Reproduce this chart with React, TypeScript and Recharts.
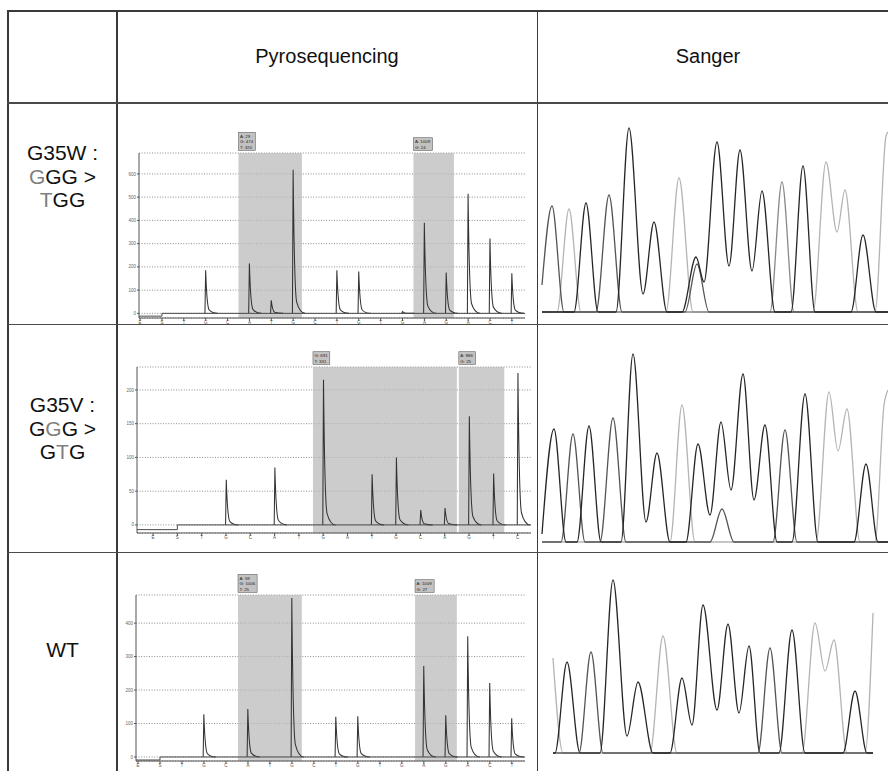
import React from "react";
import {
  Bar,
  CartesianGrid,
  ComposedChart,
  Line,
  LineChart,
  ReferenceArea,
  XAxis,
  YAxis,
} from "recharts";

// ---- pyrograms: dispensation order and peak height per dispensation ----
const dispW = ["E", "S", "T", "G", "C", "A", "T", "G", "C", "T", "G", "T", "G", "A", "G", "A", "C", "T"];
const dispV = ["E", "S", "T", "G", "C", "A", "T", "G", "A", "T", "G", "C", "A", "G", "T", "C"];

const g35wSignal = [0, 0, 0, 185, 0, 215, 56, 618, 0, 185, 180, 0, 8, 390, 176, 515, 322, 172];
const g35vSignal = [0, 0, 0, 67, 0, 85, 0, 215, 0, 75, 100, 22, 25, 161, 76, 225];
const wtSignal = [0, 0, 0, 128, 0, 143, 0, 475, 0, 120, 122, 0, 0, 272, 125, 361, 221, 116];

const g35wTicks = [0, 100, 200, 300, 400, 500, 600];
const g35vTicks = [0, 50, 100, 150, 200];
const wtTicks = [0, 100, 200, 300, 400];

// trace baseline (drops before substrate is added)
const g35wBase = [{ x: -0.05, y: -12 }, { x: 1, y: 0 }, { x: 17.6, y: 0 }];
const g35vBase = [{ x: -0.66, y: -7 }, { x: 1, y: 0 }, { x: 15.55, y: 0 }];
const wtBase = [{ x: -0.09, y: -9 }, { x: 1, y: 0 }, { x: 17.6, y: 0 }];

// analysed positions (grey boxes) and their allele readouts
const g35wShades = [
  { x1: 4.5, x2: 7.4, lines: ["A: 29", "G: 474", "T: 320"] },
  { x1: 12.5, x2: 14.35, lines: ["A: 1009", "G: 24"] },
];
const g35vShades = [
  { x1: 6.58, x2: 12.5, lines: ["G: 691", "T: 331"] },
  { x1: 12.58, x2: 14.45, lines: ["A: 886", "G: 25"] },
];
const wtShades = [
  { x1: 4.55, x2: 7.45, lines: ["A: 59", "G: 1006", "T: 25"] },
  { x1: 12.6, x2: 14.5, lines: ["A: 1009", "G: 27"] },
];

// ---- Sanger traces: [scan, intensity] per dye channel ----
const g35wDark = [[12, 0], [44, 0], [56, 109], [68, 0], [86, 0], [99, 184], [113, 18], [124, 90], [137, 0], [152, 0], [166, 55], [174, 30], [187, 170], [199, 46], [210, 162], [222, 41], [232, 121], [245, 0], [261, 0], [273, 146], [285, 0], [321, 0], [333, 77], [346, 0], [358, 0]];
const g35wMid = [[12, 27], [22, 106], [34, 0], [66, 0], [79, 117], [92, 0], [155, 0], [167, 48], [179, 0], [358, 0]];
const g35wGrey = [[12, 0], [240, 0], [252, 130], [264, 0], [358, 0]];
const g35wLight = [[12, 0], [27, 0], [39, 103], [51, 0], [136, 0], [149, 134], [163, 0], [283, 0], [296, 150], [307, 80], [315, 122], [328, 0], [345, 0], [356, 176], [358, 180]];

const g35vDark = [[12, 8], [24, 113], [36, 0], [47, 0], [59, 116], [71, 0], [91, 0], [103, 188], [116, 20], [127, 89], [140, 0], [156, 0], [168, 98], [180, 27], [191, 120], [201, 52], [213, 168], [224, 42], [235, 117], [247, 0], [262, 0], [275, 148], [288, 0], [324, 0], [336, 78], [348, 0], [358, 0]];
const g35vMid = [[12, 0], [31, 0], [43, 108], [55, 0], [70, 0], [83, 124], [96, 0], [180, 0], [192, 33], [204, 0], [243, 0], [255, 112], [267, 0], [358, 0]];
const g35vLight = [[12, 0], [140, 0], [152, 137], [165, 0], [286, 0], [299, 150], [308, 91], [317, 133], [330, 0], [345, 0], [354, 137], [358, 152]];

const wtDark = [[23, 0], [25, 0], [37, 91], [50, 0], [70, 0], [83, 173], [97, 17], [108, 71], [123, 0], [140, 0], [152, 75], [162, 28], [173, 148], [187, 43], [198, 129], [209, 40], [219, 107], [230, 0], [249, 0], [262, 123], [275, 0], [313, 0], [325, 62], [337, 0], [343, 0]];
const wtMid = [[23, 0], [49, 0], [61, 101], [73, 0], [228, 0], [240, 105], [252, 0], [343, 0]];
const wtLight = [[23, 95], [33, 0], [120, 0], [133, 117], [147, 0], [272, 0], [285, 130], [295, 82], [304, 113], [317, 0], [335, 0], [343, 140]];

const FONT = "'Liberation Sans', Arial, sans-serif";

const toPts = (a: number[][]) => a.map(([x, v]) => ({ x, v }));

function Peak(props: any) {
  const { x, y, width, height } = props;
  if (!height || height < 0.5) return <g />;
  const cx = x + width / 2;
  const top = y;
  const base = y + height;
  const H = height;
  const d = `M${cx - 0.7},${base} L${cx},${top} C${cx + 0.8},${top + H * 0.55} ${cx + 1.6},${base - H * 0.14} ${cx + 3.5},${base - H * 0.08} C${cx + 5.5},${base - H * 0.03} ${cx + 8},${base} ${cx + 12},${base}`;
  return <path d={d} fill="none" stroke="#333" strokeWidth={1.05} />;
}

function DispTick(props: any) {
  const { x, y, payload, disp } = props;
  return (
    <text x={x} y={y + 2.5} fontSize={4.5} textAnchor="middle" fill="#555" stroke="none">
      {disp[payload.value]}
    </text>
  );
}

function Ann(props: any) {
  const { viewBox, lines } = props;
  if (!viewBox) return null;
  const w = Math.max(...lines.map((l: string) => l.length)) * 2.3 + 3;
  const h = lines.length * 5.4 + 2;
  const bx = viewBox.x;
  const by = viewBox.y - h - 2.5;
  return (
    <g>
      <rect x={bx} y={by} width={w} height={h} fill="#c2c2c2" stroke="#666" strokeWidth={0.6} />
      {lines.map((l: string, i: number) => (
        <text key={i} x={bx + 1.5} y={by + 5.6 + i * 5.4} fontSize={4.4} fill="#222" stroke="none">
          {l}
        </text>
      ))}
    </g>
  );
}

function Pyrogram(p: any) {
  const data = p.disp.map((_: string, i: number) => ({ x: i, v: p.signal[i] }));
  return (
    <div style={{ position: "absolute", left: p.left, top: p.top }}>
      <ComposedChart
        width={p.width}
        height={p.height}
        data={data}
        margin={{ top: p.marginTop, right: p.marginRight, bottom: 0, left: 0 }}
      >
        <CartesianGrid vertical={false} stroke="#8c8c8c" strokeDasharray="1 1.6" />
        {p.shades.map((s: any, i: number) => (
          <ReferenceArea
            key={i}
            x1={s.x1}
            x2={s.x2}
            fill="#b9b9b9"
            fillOpacity={0.72}
            stroke="none"
            label={<Ann lines={s.lines} />}
          />
        ))}
        <XAxis
          type="number"
          dataKey="x"
          domain={p.xDomain}
          allowDataOverflow
          ticks={p.disp.map((_: string, i: number) => i)}
          interval={0}
          height={10}
          tickSize={3}
          tickMargin={0}
          stroke="#555"
          tick={<DispTick disp={p.disp} />}
        />
        <YAxis
          type="number"
          domain={p.yDomain}
          allowDataOverflow
          ticks={p.yTicks}
          interval={0}
          width={p.yWidth}
          tickSize={2}
          tickMargin={1}
          stroke="#555"
          tick={{ fontSize: 4.5, fill: "#666" }}
        />
        <Line
          data={p.base}
          dataKey="y"
          type="stepAfter"
          stroke="#4a4a4a"
          strokeWidth={1}
          dot={false}
          isAnimationActive={false}
        />
        <Bar dataKey="v" barSize={2} shape={Peak} isAnimationActive={false} />
      </ComposedChart>
    </div>
  );
}

function Sanger({ top, channels }: any) {
  return (
    <div style={{ position: "absolute", left: 530, top }}>
      <LineChart width={358} height={204} margin={{ top: 0, right: 0, bottom: 4, left: 0 }}>
        <XAxis type="number" dataKey="x" domain={[0, 358]} hide allowDataOverflow />
        <YAxis type="number" domain={[0, 200]} hide />
        {channels.map((c: any, i: number) => (
          <Line
            key={i}
            data={toPts(c.pts)}
            dataKey="v"
            type="monotone"
            stroke={c.color}
            strokeWidth={1.3}
            dot={false}
            isAnimationActive={false}
          />
        ))}
      </LineChart>
    </div>
  );
}

const line = (left: number, top: number, width: number, height: number, color = "#3a3a3a") => (
  <div style={{ position: "absolute", left, top, width, height, background: color }} />
);

const grey = { color: "#808080" };

export default function App() {
  return (
    <div
      style={{
        position: "absolute",
        left: 0,
        top: 0,
        width: 888,
        height: 771,
        overflow: "hidden",
        background: "#fff",
        fontFamily: FONT,
        color: "#111",
      }}
    >
      {/* header */}
      <div style={{ position: "absolute", left: 117, top: 45, width: 420, textAlign: "center", fontSize: 20, lineHeight: "23.5px" }}>
        Pyrosequencing
      </div>
      <div style={{ position: "absolute", left: 537, top: 45, width: 342, textAlign: "center", fontSize: 20, lineHeight: "23.5px" }}>
        Sanger
      </div>

      {/* row labels */}
      <div style={{ position: "absolute", left: 8, top: 141, width: 109, textAlign: "center", fontSize: 21, lineHeight: "23.5px" }}>
        <div>G35W :</div>
        <div><span style={grey}>G</span>GG &gt;</div>
        <div><span style={grey}>T</span>GG</div>
      </div>
      <div style={{ position: "absolute", left: 8, top: 393, width: 109, textAlign: "center", fontSize: 21, lineHeight: "23.5px" }}>
        <div>G35V :</div>
        <div>G<span style={grey}>G</span>G &gt;</div>
        <div>G<span style={grey}>T</span>G</div>
      </div>
      <div style={{ position: "absolute", left: 8, top: 638, width: 109, textAlign: "center", fontSize: 21, lineHeight: "23.5px" }}>
        WT
      </div>

      {/* pyrograms */}
      <Pyrogram
        left={117} top={125} width={420} height={203} marginTop={28} marginRight={12} yWidth={22}
        xDomain={[-0.05, 17.6]} yDomain={[-20, 690]} yTicks={g35wTicks}
        disp={dispW} signal={g35wSignal} base={g35wBase} shades={g35wShades}
      />
      <Pyrogram
        left={117} top={345} width={420} height={198} marginTop={22} marginRight={6} yWidth={20}
        xDomain={[-0.66, 15.55]} yDomain={[-12, 234]} yTicks={g35vTicks}
        disp={dispV} signal={g35vSignal} base={g35vBase} shades={g35vShades}
      />
      <Pyrogram
        left={117} top={565} width={420} height={206} marginTop={30} marginRight={12} yWidth={19}
        xDomain={[-0.09, 17.6]} yDomain={[-12, 484]} yTicks={wtTicks}
        disp={dispW} signal={wtSignal} base={wtBase} shades={wtShades}
      />

      {/* Sanger chromatograms */}
      <Sanger
        top={112}
        channels={[
          { pts: g35wLight, color: "#b4b4b4" },
          { pts: g35wGrey, color: "#8a8a8a" },
          { pts: g35wMid, color: "#555" },
          { pts: g35wDark, color: "#262626" },
        ]}
      />
      <Sanger
        top={342}
        channels={[
          { pts: g35vLight, color: "#b4b4b4" },
          { pts: g35vMid, color: "#555" },
          { pts: g35vDark, color: "#262626" },
        ]}
      />
      <Sanger
        top={553}
        channels={[
          { pts: wtLight, color: "#b4b4b4" },
          { pts: wtMid, color: "#555" },
          { pts: wtDark, color: "#262626" },
        ]}
      />

      {/* table rules */}
      {line(7, 10, 881, 2)}
      {line(7, 10, 2, 761)}
      {line(116, 10, 1.5, 761)}
      {line(536.5, 10, 1.5, 761)}
      {line(7, 102, 881, 1.8, "#4a4a4a")}
      {line(7, 323.5, 881, 1.5, "#4a4a4a")}
      {line(7, 551.5, 881, 1.5, "#4a4a4a")}
    </div>
  );
}
